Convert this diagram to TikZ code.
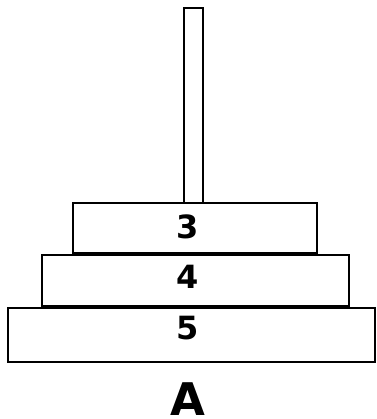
\documentclass[tikz,border=0pt]{standalone}
\usepackage{fontspec}
\setmainfont{DejaVu Sans}

\begin{document}
\begin{tikzpicture}[x=1pt,y=-1pt,line width=1.6pt,
  disk/.style={draw=black,fill=white},
  num/.style={anchor=base,inner sep=0pt,font=\fontsize{32}{36}\selectfont\bfseries},
  peg/.style={anchor=base,inner sep=0pt,font=\fontsize{45}{50}\selectfont\bfseries}]
\useasboundingbox (0,0) rectangle (376,419);
% pole
\draw[disk] (184,8) rectangle (203,362);
% disks, bottom to top
\draw[disk] (8,308) rectangle (375,362);
\draw[disk] (42,255) rectangle (349,306);
\draw[disk] (73,203) rectangle (317,253);
% pole shows through the gaps
\draw (184,253)--(184,255) (203,253)--(203,255);
\draw (184,306)--(184,308) (203,306)--(203,308);
\node[num] (n3) at (187.5,238) {3};
\node[num] (n4) at (187.5,288) {4};
\node[num] (n5) at (187.5,339) {5};
\node[peg] (pegA) at (187.5,415) {A};
\end{tikzpicture}
\end{document}
